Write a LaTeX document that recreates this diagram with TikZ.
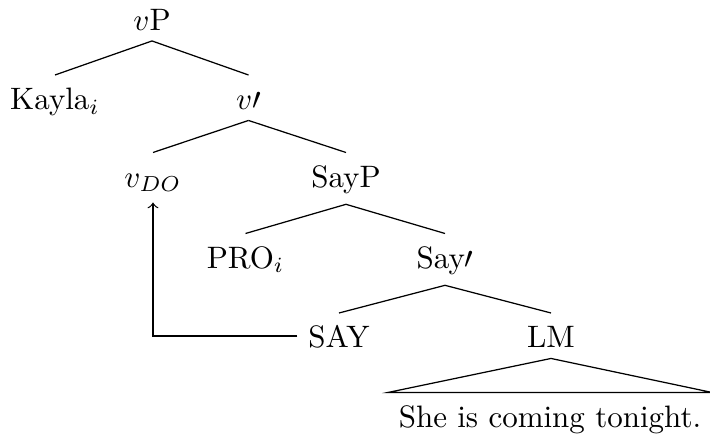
\documentclass[tikz,border=0pt]{standalone}
\usepackage{tikz}

\begin{document}
\begin{tikzpicture}[
    x=0.3226pt, y=-0.3226pt,
    % Node styles
    cat/.style={anchor=base, inner sep=0.3333em, text height=7.6pt},
    branch/.style={thin},
    move/.style={->, thin},
]
\useasboundingbox (0,0) rectangle (710,437);

% ============================================================================
% TREE NODES
% ============================================================================
\node[cat] (vP) at (152, 30) {$v$P};

\node[cat] (kayla) at (55, 109.5) {Kayla$_i$};
\node[cat] (vbar) at (248.5, 109.5) {$v\prime$};

\node[cat] (vDO) at (153, 187) {$v_{DO}$};
\node[cat] (sayP) at (346, 187) {SayP};

\node[cat] (pro) at (245.5, 268) {PRO$_i$};
\node[cat] (saybar) at (445, 268) {Say$\prime$};

\node[cat] (say) at (339, 347.5) {SAY};
\node[cat] (lm) at (551, 347.5) {LM};

\node[cat] (sent) at (550, 427) {She is coming tonight.};

% Branches
\foreach \mother/\daughter in {vP/kayla, vP/vbar, vbar/vDO, vbar/sayP, sayP/pro, sayP/saybar, saybar/say, saybar/lm} {
    \draw[branch] (\mother.south) -- (\daughter.north);
}

% Roof over the clause
\draw[branch] (lm.south) -- (sent.north west) -- (sent.north east) -- cycle;

% Head movement
\draw[move] (say.west) -| (vDO.south);

\end{tikzpicture}
\end{document}
